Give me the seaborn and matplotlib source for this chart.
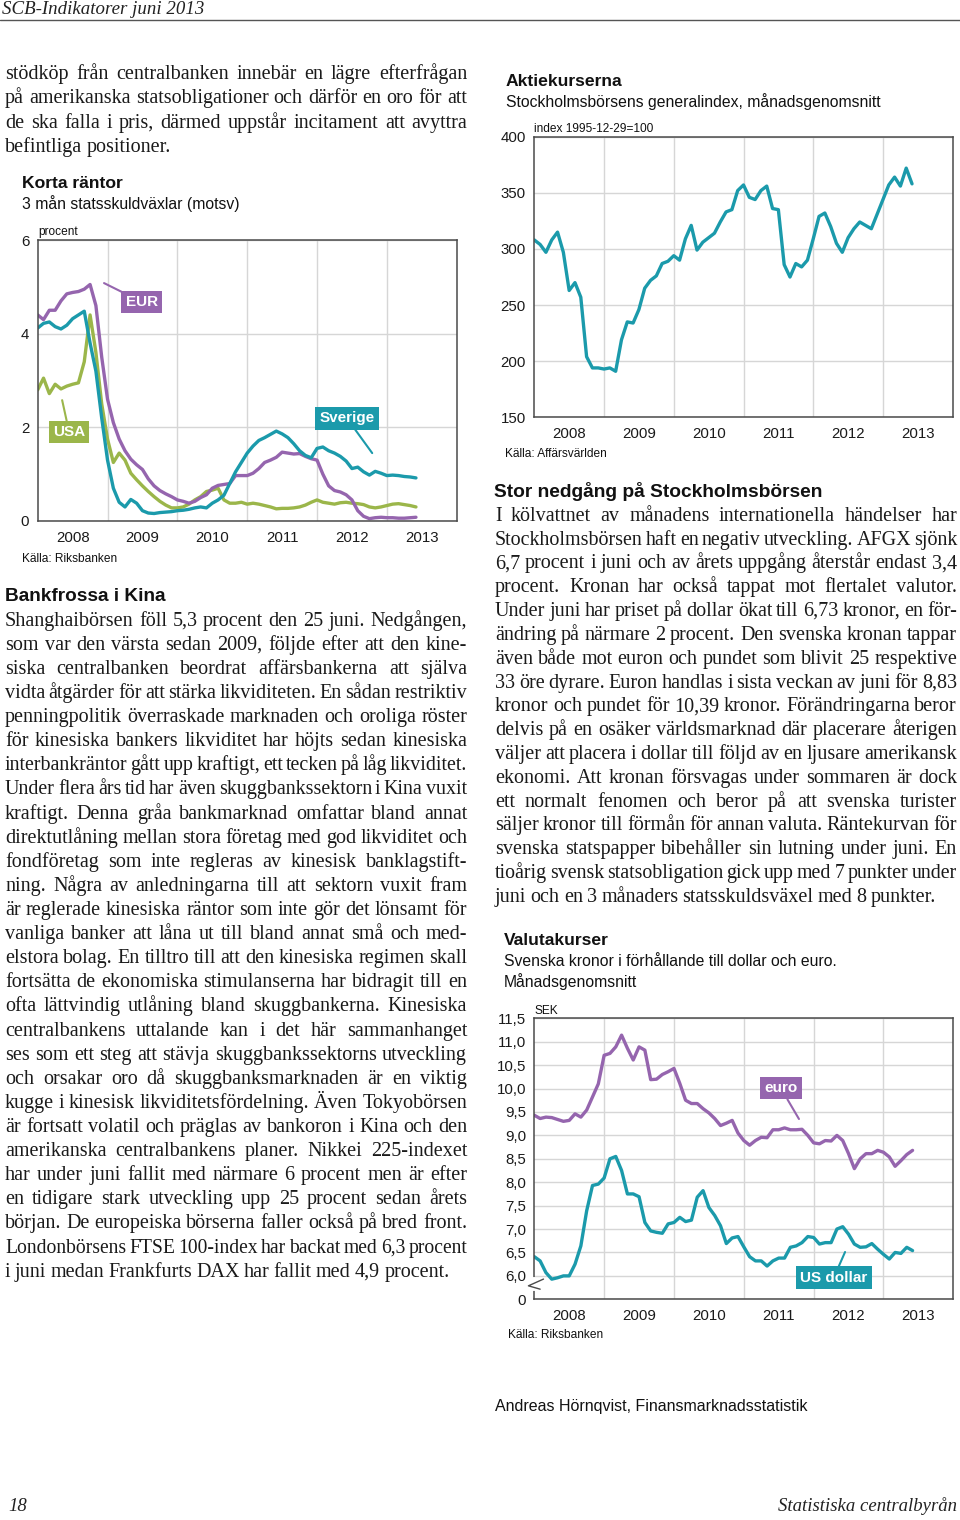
import pandas as pd
import matplotlib
matplotlib.use('Agg')
import matplotlib.pyplot as plt
import seaborn as sns
from matplotlib.lines import Line2D

# ---- data (monthly, Jan 2008 - Jun 2013) ----
months = pd.date_range('2008-01-01', periods=66, freq='MS')
years = [2008, 2009, 2010, 2011, 2012, 2013]

# Korta räntor, procent
eur = [4.40, 4.30, 4.50, 4.50, 4.70, 4.85, 4.88, 4.90, 4.95, 5.05, 4.60, 3.50,
       2.60, 2.10, 1.75, 1.50, 1.32, 1.20, 1.10, 0.90, 0.75, 0.65, 0.58, 0.52,
       0.45, 0.42, 0.38, 0.42, 0.50, 0.56, 0.70, 0.76, 0.78, 0.80, 0.97, 0.97,
       0.97, 1.02, 1.12, 1.25, 1.30, 1.36, 1.47, 1.45, 1.43, 1.44, 1.38, 1.33,
       1.30, 1.00, 0.75, 0.65, 0.62, 0.56, 0.45, 0.22, 0.10, 0.05, 0.07, 0.08,
       0.07, 0.07, 0.06, 0.06, 0.07, 0.08]
sverige = [4.12, 4.22, 4.25, 4.15, 4.10, 4.18, 4.32, 4.40, 4.48, 3.80, 3.20, 2.20,
           1.30, 0.70, 0.40, 0.30, 0.46, 0.38, 0.22, 0.17, 0.16, 0.18, 0.19, 0.20,
           0.22, 0.23, 0.25, 0.28, 0.30, 0.28, 0.38, 0.45, 0.55, 0.80, 1.05, 1.25,
           1.45, 1.60, 1.72, 1.78, 1.85, 1.92, 1.86, 1.78, 1.65, 1.50, 1.40, 1.35,
           1.55, 1.58, 1.50, 1.45, 1.38, 1.28, 1.12, 1.15, 1.05, 0.98, 1.06, 1.02,
           0.97, 0.98, 0.97, 0.95, 0.94, 0.92]
usa = [2.80, 3.05, 2.72, 2.92, 2.82, 2.88, 2.92, 2.95, 3.40, 4.40, 3.60, 2.50,
       1.75, 1.25, 1.45, 1.30, 1.02, 0.88, 0.75, 0.63, 0.52, 0.42, 0.34, 0.28,
       0.28, 0.30, 0.36, 0.45, 0.52, 0.63, 0.66, 0.70, 0.45, 0.38, 0.38, 0.40,
       0.36, 0.38, 0.36, 0.33, 0.30, 0.26, 0.27, 0.27, 0.28, 0.30, 0.34, 0.40,
       0.45, 0.40, 0.38, 0.36, 0.39, 0.40, 0.38, 0.37, 0.35, 0.30, 0.28, 0.30,
       0.33, 0.36, 0.37, 0.35, 0.33, 0.30]

# Aktiekurserna, index 1995-12-29=100
afgx = [308, 304, 297, 308, 315, 297, 263, 270, 257, 204, 194, 194,
        193, 194, 191, 219, 235, 234, 246, 265, 272, 276, 287, 289,
        294, 290, 309, 321, 299, 306, 310, 314, 324, 333, 335, 352,
        357, 346, 344, 352, 356, 336, 335, 286, 275, 287, 284, 290,
        309, 329, 332, 320, 305, 297, 310, 318, 324, 321, 318, 331,
        344, 357, 364, 356, 372, 358]

# Valutakurser, SEK
euro = [9.43, 9.36, 9.39, 9.38, 9.34, 9.30, 9.32, 9.46, 9.39, 9.54, 9.82, 10.10,
        10.71, 10.75, 10.89, 11.14, 10.86, 10.61, 10.89, 10.82, 10.19, 10.20, 10.30, 10.36,
        10.43, 10.11, 9.75, 9.68, 9.68, 9.57, 9.48, 9.36, 9.21, 9.26, 9.32, 9.05,
        8.89, 8.79, 8.89, 8.96, 8.95, 9.12, 9.12, 9.16, 9.12, 9.12, 9.13, 9.00,
        8.84, 8.82, 8.89, 8.88, 9.00, 8.89, 8.61, 8.29, 8.50, 8.61, 8.61, 8.68,
        8.64, 8.54, 8.34, 8.46, 8.59, 8.68]
usd = [6.41, 6.32, 6.07, 5.93, 5.96, 6.00, 6.00, 6.25, 6.64, 7.39, 7.93, 7.96,
       8.09, 8.50, 8.55, 8.25, 7.75, 7.75, 7.69, 7.14, 6.96, 6.93, 6.91, 7.11,
       7.14, 7.25, 7.16, 7.19, 7.68, 7.82, 7.46, 7.29, 7.07, 6.69, 6.81, 6.84,
       6.62, 6.41, 6.32, 6.32, 6.21, 6.32, 6.38, 6.38, 6.61, 6.64, 6.71, 6.84,
       6.82, 6.68, 6.71, 6.71, 7.00, 7.05, 6.89, 6.68, 6.61, 6.62, 6.69, 6.57,
       6.46, 6.36, 6.50, 6.48, 6.61, 6.54]

PURPLE = '#9565ae'
TEAL = '#1b9aab'
GREEN = '#9bb64a'

# ---- text ----
intro = ["stödköp från centralbanken innebär en lägre efterfrågan",
         "på amerikanska statsobligationer och därför en oro för att",
         "de ska falla i pris, därmed uppstår incitament att avyttra",
         "befintliga positioner."]
kina = ["Shanghaibörsen föll 5,3 procent den 25 juni. Nedgången,",
        "som var den värsta sedan 2009, följde efter att den kine-",
        "siska centralbanken beordrat affärsbankerna att själva",
        "vidta åtgärder för att stärka likviditeten. En sådan restriktiv",
        "penningpolitik överraskade marknaden och oroliga röster",
        "för kinesiska bankers likviditet har höjts sedan kinesiska",
        "interbankräntor gått upp kraftigt, ett tecken på låg likviditet.",
        "Under flera års tid har även skuggbankssektorn i Kina vuxit",
        "kraftigt. Denna gråa bankmarknad omfattar bland annat",
        "direktutlåning mellan stora företag med god likviditet och",
        "fondföretag som inte regleras av kinesisk banklagstift-",
        "ning. Några av anledningarna till att sektorn vuxit fram",
        "är reglerade kinesiska räntor som inte gör det lönsamt för",
        "vanliga banker att låna ut till bland annat små och med-",
        "elstora bolag. En tilltro till att den kinesiska regimen skall",
        "fortsätta de ekonomiska stimulanserna har bidragit till en",
        "ofta lättvindig utlåning bland skuggbankerna. Kinesiska",
        "centralbankens uttalande kan i det här sammanhanget",
        "ses som ett steg att stävja skuggbankssektorns utveckling",
        "och orsakar oro då skuggbanksmarknaden är en viktig",
        "kugge i kinesisk likviditetsfördelning. Även Tokyobörsen",
        "är fortsatt volatil och präglas av bankoron i Kina och den",
        "amerikanska centralbankens planer. Nikkei 225-indexet",
        "har under juni fallit med närmare 6 procent men är efter",
        "en tidigare stark utveckling upp 25 procent sedan årets",
        "början. De europeiska börserna faller också på bred front.",
        "Londonbörsens FTSE 100-index har backat med 6,3 procent",
        "i juni medan Frankfurts DAX har fallit med 4,9 procent."]
stockholm = ["I kölvattnet av månadens internationella händelser har",
             "Stockholmsbörsen haft en negativ utveckling. AFGX sjönk",
             "6,7 procent i juni och av årets uppgång återstår endast 3,4",
             "procent. Kronan har också tappat mot flertalet valutor.",
             "Under juni har priset på dollar ökat till 6,73 kronor, en för-",
             "ändring på närmare 2 procent. Den svenska kronan tappar",
             "även både mot euron och pundet som blivit 25 respektive",
             "33 öre dyrare. Euron handlas i sista veckan av juni för 8,83",
             "kronor och pundet för 10,39 kronor. Förändringarna beror",
             "delvis på en osäker världsmarknad där placerare återigen",
             "väljer att placera i dollar till följd av en ljusare amerikansk",
             "ekonomi. Att kronan försvagas under sommaren är dock",
             "ett normalt fenomen och beror på att svenska turister",
             "säljer kronor till förmån för annan valuta. Räntekurvan för",
             "svenska statspapper bibehåller sin lutning under juni. En",
             "tioårig svensk statsobligation gick upp med 7 punkter under",
             "juni och en 3 månaders statsskuldsväxel med 8 punkter."]

sns.set_style('white')
plt.rcParams['font.family'] = ['Liberation Sans', 'DejaVu Sans']
SERIF = 'Liberation Serif'
BODY = 14.5

W, H = 960, 1520
fig = plt.figure(figsize=(9.6, 15.2), dpi=100)
renderer = fig.canvas.get_renderer()


def fx(px):
    return px / W


def fy(py):
    return 1 - py / H


def label(px, py, s, size, **kw):
    return fig.text(fx(px), fy(py), s, fontsize=size, va='baseline', **kw)


def paragraph(lines, x0, x1, y0, dy, size=BODY):
    min_gap = 3.2
    for i, line in enumerate(lines):
        y = y0 + i * dy
        words = line.split(' ')
        arts = [label(x0, y, w, size, family=SERIF, color='#1a1a1a') for w in words]
        widths = [a.get_window_extent(renderer).width for a in arts]
        last = i == len(lines) - 1
        natural = sum(widths) + min_gap * (len(words) - 1)
        if natural > x1 - x0:
            # line would overflow: shrink this line a little
            k = (x1 - x0 - min_gap * (len(words) - 1)) / sum(widths)
            for a in arts:
                a.set_fontsize(size * k)
            widths = [w * k for w in widths]
        if last:
            gap = 4.2
        else:
            gap = (x1 - x0 - sum(widths)) / (len(words) - 1)
        x = x0
        for a, w in zip(arts, widths):
            a.set_x(fx(x))
            x += w + gap


def axes_at(left, top, right, bottom):
    return fig.add_axes([fx(left), fy(bottom), (right - left) / W, (bottom - top) / H])


def style(ax, yticks, ylabels, ylim):
    ax.set_xlim(2008, 2014)
    ax.set_ylim(*ylim)
    ax.set_xticks([y + 0.5 for y in years])
    ax.set_xticklabels([str(y) for y in years])
    ax.set_xticks(years[1:], minor=True)
    ax.set_yticks(yticks)
    ax.set_yticklabels(ylabels)
    ax.grid(False)
    ax.grid(which='minor', axis='x', color='#d6d6d6', lw=1.0)
    ax.grid(which='major', axis='y', color='#d6d6d6', lw=1.0)
    ax.set_axisbelow(True)
    ax.tick_params(which='both', length=0, labelsize=10.8, colors='#1a1a1a')
    ax.tick_params(axis='y', pad=6)
    ax.tick_params(axis='x', pad=7)
    for s in ax.spines.values():
        s.set_color('#4a4a4a')
        s.set_linewidth(1.1)
    ax.set_xlabel('')
    ax.set_ylabel('')


def tag(ax, text, color, xy, xytext):
    ax.annotate(text, xy=xy, xytext=xytext, color='white', fontsize=11,
                fontweight='bold', ha='center', va='center',
                bbox=dict(boxstyle='square,pad=0.28', fc=color, ec='none'),
                arrowprops=dict(arrowstyle='-', color=color, lw=1.5,
                                shrinkA=0, shrinkB=0))


def to_long(series):
    frames = []
    for name, vals in series.items():
        frames.append(pd.DataFrame({'t': months.year + (months.month - 1) / 12,
                                    'v': vals, 's': name}))
    return pd.concat(frames, ignore_index=True)


# ---- page header / footer ----
label(2, 14, 'SCB-Indikatorer juni 2013', 13.6, family=SERIF, style='italic', color='#222')
fig.add_artist(Line2D([0, 1], [fy(19.5), fy(19.5)], color='#555', lw=1.0))
label(8, 1511, '18', 13.5, family=SERIF, style='italic', color='#222')
label(957, 1511, 'Statistiska centralbyrån', 13.5, family=SERIF, style='italic',
      color='#222', ha='right')
label(495, 1410.5, 'Andreas Hörnqvist, Finansmarknadsstatistik', 11.5, color='#111')

# ---- body text ----
paragraph(intro, 5, 467, 79, 24.3)
label(5, 600.7, 'Bankfrossa i Kina', 13.7, fontweight='bold', color='#111')
paragraph(kina, 5, 467, 625.7, 24.11)
label(494, 496.7, 'Stor nedgång på Stockholmsbörsen', 13.8, fontweight='bold', color='#111')
paragraph(stockholm, 495, 957, 520.7, 23.83)

# ---- Korta räntor ----
label(22, 188.3, 'Korta räntor', 12.6, fontweight='bold', color='#111')
label(22, 209.3, '3 mån statsskuldväxlar (motsv)', 11.3, color='#111')
label(38, 235, 'procent', 8.6, color='#111')
label(22, 561.7, 'Källa: Riksbanken', 8.6, color='#111')
ax1 = axes_at(37.7, 240, 456.7, 521)
sns.lineplot(data=to_long({'USA': usa, 'EUR': eur, 'Sverige': sverige}),
             x='t', y='v', hue='s', palette={'USA': GREEN, 'EUR': PURPLE, 'Sverige': TEAL},
             lw=2.4, legend=False, ax=ax1)
style(ax1, [0, 2, 4, 6], ['0', '2', '4', '6'], (0, 6))
tag(ax1, 'EUR', PURPLE, (2008.95, 5.08), (2009.49, 4.68))
tag(ax1, 'USA', GREEN, (2008.35, 2.58), (2008.45, 1.90))
tag(ax1, 'Sverige', TEAL, (2012.79, 1.45), (2012.43, 2.19))

# ---- Aktiekurserna ----
label(506, 86, 'Aktiekurserna', 12.6, fontweight='bold', color='#111')
label(506, 106.7, 'Stockholmsbörsens generalindex, månadsgenomsnitt', 11.3, color='#111')
label(534.3, 131.7, 'index 1995-12-29=100', 8.6, color='#111')
label(505, 457.3, 'Källa: Affärsvärlden', 8.6, color='#111')
ax2 = axes_at(534.3, 136.7, 952.7, 417.3)
sns.lineplot(data=to_long({'AFGX': afgx}), x='t', y='v', color=TEAL, lw=2.4, ax=ax2)
style(ax2, [150, 200, 250, 300, 350, 400], ['150', '200', '250', '300', '350', '400'], (150, 400))

# ---- Valutakurser ----
label(504, 945, 'Valutakurser', 12.6, fontweight='bold', color='#111')
label(504, 965.7, 'Svenska kronor i förhållande till dollar och euro.', 11.3, color='#111')
label(504, 986.7, 'Månadsgenomsnitt', 11.3, color='#111')
label(534.3, 1014, 'SEK', 8.6, color='#111')
label(508, 1338.3, 'Källa: Riksbanken', 8.6, color='#111')
ax3 = axes_at(534.3, 1018.3, 953.3, 1299.3)
sns.lineplot(data=to_long({'euro': euro, 'US dollar': usd}), x='t', y='v', hue='s',
             palette={'euro': PURPLE, 'US dollar': TEAL}, lw=2.4, legend=False, ax=ax3)
sek_ticks = [5.5 + 0.5 * i for i in range(13)]
sek_labels = ['0'] + [f'{v:.1f}'.replace('.', ',') for v in sek_ticks[1:]]
style(ax3, sek_ticks, sek_labels, (5.5, 11.5))
tag(ax3, 'euro', PURPLE, (2011.79, 9.35), (2011.53, 10.01))
tag(ax3, 'US dollar', TEAL, (2012.45, 6.51), (2012.29, 5.965))
# axis break on the left spine
ax3.plot([0, 0], [0.036, 0.071], transform=ax3.transAxes, color='white', lw=3, clip_on=False, zorder=5)
ax3.plot([0.022, -0.014, 0.014], [0.072, 0.048, 0.036], transform=ax3.transAxes,
         color='#4a4a4a', lw=1.0, clip_on=False, zorder=6)

fig.savefig('out.png', dpi=100)
